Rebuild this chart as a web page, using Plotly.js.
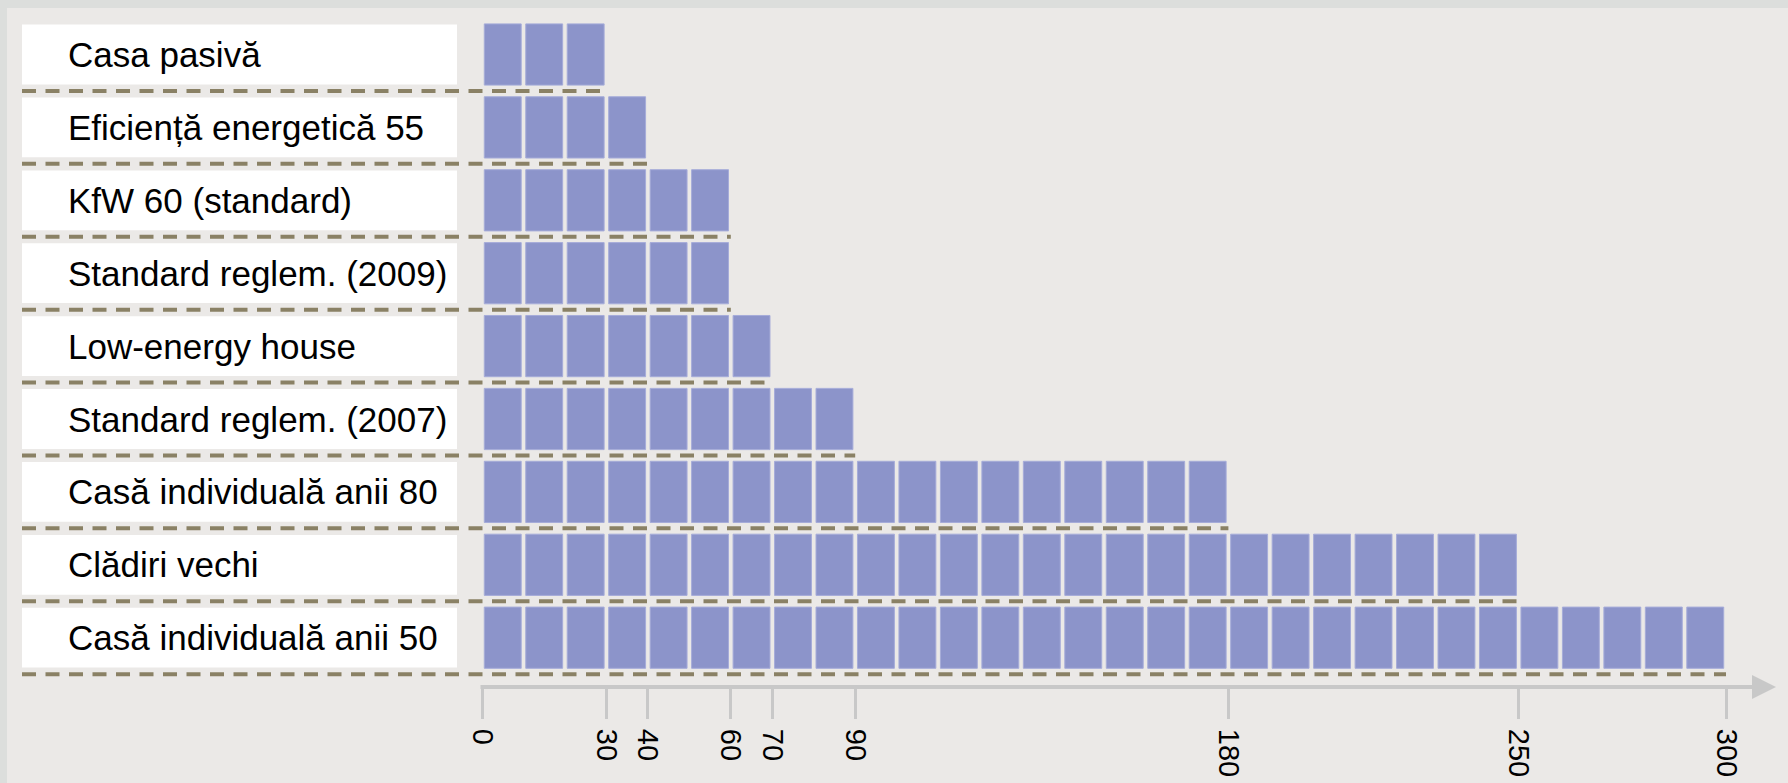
<!DOCTYPE html>
<html>
<head>
<meta charset="utf-8">
<script src="https://cdn.plot.ly/plotly-3.0.1.min.js"></script>
<style>
  html, body { margin: 0; padding: 0; background: #dcdedc; overflow: hidden; }
  #chart { position: absolute; left: 7px; top: 8px; width: 1781px; height: 775px; }
</style>
</head>
<body>
<div id="chart"></div>
<script>
// ---- data ----
const categories = [
  'Casa pasivă',
  'Eficiență energetică 55',
  'KfW 60 (standard)',
  'Standard reglem. (2009)',
  'Low-energy house',
  'Standard reglem. (2007)',
  'Casă individuală anii 80',
  'Clădiri vechi',
  'Casă individuală anii 50'
];
const values = [30, 40, 60, 60, 70, 90, 180, 250, 300];
const tickValues = [0, 30, 40, 60, 70, 90, 180, 250, 300];
const tickLabels = ['0', '30', '40', '60', '70', '90', '180', '250', '300'];
const blockSize = 10;

// ---- geometry helpers (page pixels -> axis units) ----
const DIV_L = 7, DIV_T = 8, W = 1781, H = 775;
const MB = 96, PLOT_H = H - MB;
const pxPerUnit = (1726 - 482) / 300;
const xr0 = -(482 - DIV_L) / pxPerUnit;
const xr1 = xr0 + W / pxPerUnit;
const rowPitch = 72.9;
const yTop = -(54.5 - DIV_T) / rowPitch;
const yBottom = yTop + PLOT_H / rowPitch;
const xd = px => xr0 + (px - DIV_L) / pxPerUnit;
const yp = py => 1 - (py - DIV_T) / PLOT_H;

// ---- blocks ----
const gap = 1.1;
const bx = [], by = [], bbase = [];
values.forEach((v, k) => {
  const n = Math.round(v / blockSize);
  for (let i = 0; i < n; i++) {
    by.push(k);
    bbase.push(i * blockSize + gap / 2);
    bx.push(blockSize - gap);
  }
});

const trace = {
  type: 'bar',
  orientation: 'h',
  x: bx,
  y: by,
  base: bbase,
  width: 0.84,
  marker: { color: '#8c94ca', line: { color: '#a6acd9', width: 1 } },
  hoverinfo: 'skip',
  showlegend: false
};

const shapes = [];
const annotations = [];
categories.forEach((c, k) => {
  shapes.push({
    type: 'rect', xref: 'x', yref: 'y', layer: 'below',
    x0: xd(22), x1: xd(457), y0: k - 0.41, y1: k + 0.41,
    fillcolor: '#ffffff', line: { width: 0 }
  });
  shapes.push({
    type: 'line', xref: 'x', yref: 'y', layer: 'above',
    x0: xd(22), x1: values[k], y0: k + 0.5, y1: k + 0.5,
    line: { color: '#8a8165', width: 4, dash: '14px,9.5px' }
  });
  annotations.push({
    xref: 'x', yref: 'y', x: xd(66), y: k,
    xanchor: 'left', yanchor: 'middle', showarrow: false,
    text: c,
    font: { family: 'Liberation Sans, Arial, sans-serif', size: 35, color: '#000000' }
  });
});
// axis line with arrow
shapes.push({
  type: 'line', xref: 'x', yref: 'paper', layer: 'above',
  x0: xd(480.5), x1: xd(1756), y0: 0, y1: 0,
  line: { color: '#c8c8c8', width: 4 }
});
shapes.push({
  type: 'path', xref: 'x', yref: 'paper', layer: 'above',
  path: `M ${xd(1752)},${yp(675)} L ${xd(1776)},${yp(687)} L ${xd(1752)},${yp(699)} Z`,
  fillcolor: '#c8c8c8', line: { width: 0 }
});

const layout = {
  width: W, height: H,
  margin: { l: 0, r: 0, t: 0, b: MB, pad: 0 },
  paper_bgcolor: '#ebe9e7',
  plot_bgcolor: '#ebe9e7',
  showlegend: false,
  xaxis: {
    range: [xr0, xr1], autorange: false, fixedrange: true,
    showgrid: false, zeroline: false, showline: false,
    tickmode: 'array', tickvals: tickValues, ticktext: tickLabels,
    ticks: 'outside', ticklen: 31, tickwidth: 3, tickcolor: '#c8c8c8',
    tickangle: 90, ticklabelstandoff: 4,
    tickfont: { family: 'Liberation Sans, Arial, sans-serif', size: 29, color: '#000000' }
  },
  yaxis: {
    range: [yBottom, yTop], autorange: false, fixedrange: true,
    visible: false, showgrid: false, zeroline: false
  },
  shapes: shapes,
  annotations: annotations
};

Plotly.newPlot('chart', [trace], layout, { staticPlot: true, displayModeBar: false });
</script>
</body>
</html>
